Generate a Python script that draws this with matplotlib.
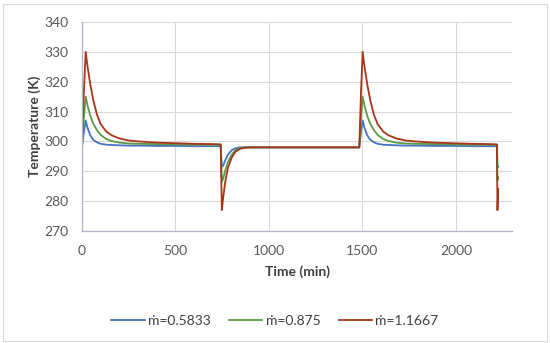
import matplotlib
matplotlib.use("Agg")
import matplotlib.pyplot as plt
from matplotlib.patches import Rectangle

plt.rcParams["font.family"] = ["Lato", "DejaVu Sans"]

# time axis (min)
time_min = [0, 10, 20, 30, 45, 60, 80, 100, 130, 160, 200, 250, 300, 400, 500, 600, 700, 742,
            748, 755, 765, 780, 800, 820, 845, 870, 900, 1000, 1200, 1400, 1483,
            1492, 1501, 1511, 1526, 1541, 1561, 1581, 1611, 1641, 1681, 1731, 1781, 1881, 1981,
            2081, 2181, 2219,
            2222, 2226]

temp_05833 = [298, 303, 307, 304.5, 302, 300.6, 299.7, 299.2, 298.9, 298.8, 298.7, 298.6, 298.6,
              298.5, 298.5, 298.4, 298.4, 298.4,
              291.5, 291.8, 293.5, 295.5, 297, 297.7, 298, 298, 298, 298, 298, 298, 298,
              303, 307, 304.5, 302, 300.6, 299.7, 299.2, 298.9, 298.8, 298.7, 298.6, 298.6,
              298.5, 298.5, 298.4, 298.4, 298.4,
              291.7, 291.5]

temp_0875 = [298, 308, 315, 312, 308.5, 306, 303.8, 302.2, 300.8, 300.1, 299.6, 299.3, 299.2,
             299.1, 299.0, 298.9, 298.9, 298.9,
             286.5, 287.5, 290, 293, 295.5, 297, 297.7, 298, 298, 298, 298, 298, 298,
             308, 315, 312, 308.5, 306, 303.8, 302.2, 300.8, 300.1, 299.6, 299.3, 299.2,
             299.1, 299.0, 298.9, 298.9, 298.9,
             287, 288]

temp_11667 = [298, 316, 330, 325, 319, 314, 309, 305.8, 303.3, 302, 301, 300.3, 300,
              299.6, 299.4, 299.2, 299.1, 299.0,
              277, 281, 286, 291, 294.5, 296.5, 297.5, 297.9, 298, 298, 298, 298, 298,
              316, 330, 325, 319, 314, 309, 305.8, 303.3, 302, 301, 300.3, 300,
              299.6, 299.4, 299.2, 299.1, 299.0,
              277, 284]

labels = ["ṁ=0.5833", "ṁ=0.875", "ṁ=1.1667"]
colors = ["#4472C4", "#5B9A45", "#A8341A"]

fig = plt.figure(figsize=(5.5, 3.43), dpi=100)
ax = fig.add_axes([0.149, 0.3265, 0.782, 0.6095])

for y, lab, c in zip([temp_05833, temp_0875, temp_11667], labels, colors):
    ax.plot(time_min, y, color=c, lw=1.3, label=lab)

ax.set_xlim(0, 2300)
ax.set_ylim(270, 340)
ax.set_xticks([0, 500, 1000, 1500, 2000])
ax.set_yticks(range(270, 341, 10))
ax.grid(True, color="#D9D9D9", lw=0.8)
ax.set_axisbelow(True)
for s in ["top", "right"]:
    ax.spines[s].set_visible(False)
for s in ["left", "bottom"]:
    ax.spines[s].set_color("#B4B4C8")
    ax.spines[s].set_linewidth(0.9)
ax.tick_params(length=0, labelsize=10, colors="#595959")
ax.tick_params(axis="y", pad=10)
ax.tick_params(axis="x", pad=10)
ax.set_xlabel("Time (min)", fontsize=10, fontweight="bold", color="#404040", labelpad=6)
ax.set_ylabel("Temperature (K)", fontsize=10, fontweight="bold", color="#404040", labelpad=2)

fig.legend(loc="center", bbox_to_anchor=(0.5, 0.064), ncol=3, frameon=False,
           fontsize=10, handlelength=2.4, columnspacing=1.3, handletextpad=0.25,
           labelcolor="#404040")

fig.patches.append(Rectangle((0.006, 0.006), 0.988, 0.982, transform=fig.transFigure,
                             fill=False, edgecolor="#D9D9D9", lw=0.8))

fig.savefig("out.png", dpi=100)
